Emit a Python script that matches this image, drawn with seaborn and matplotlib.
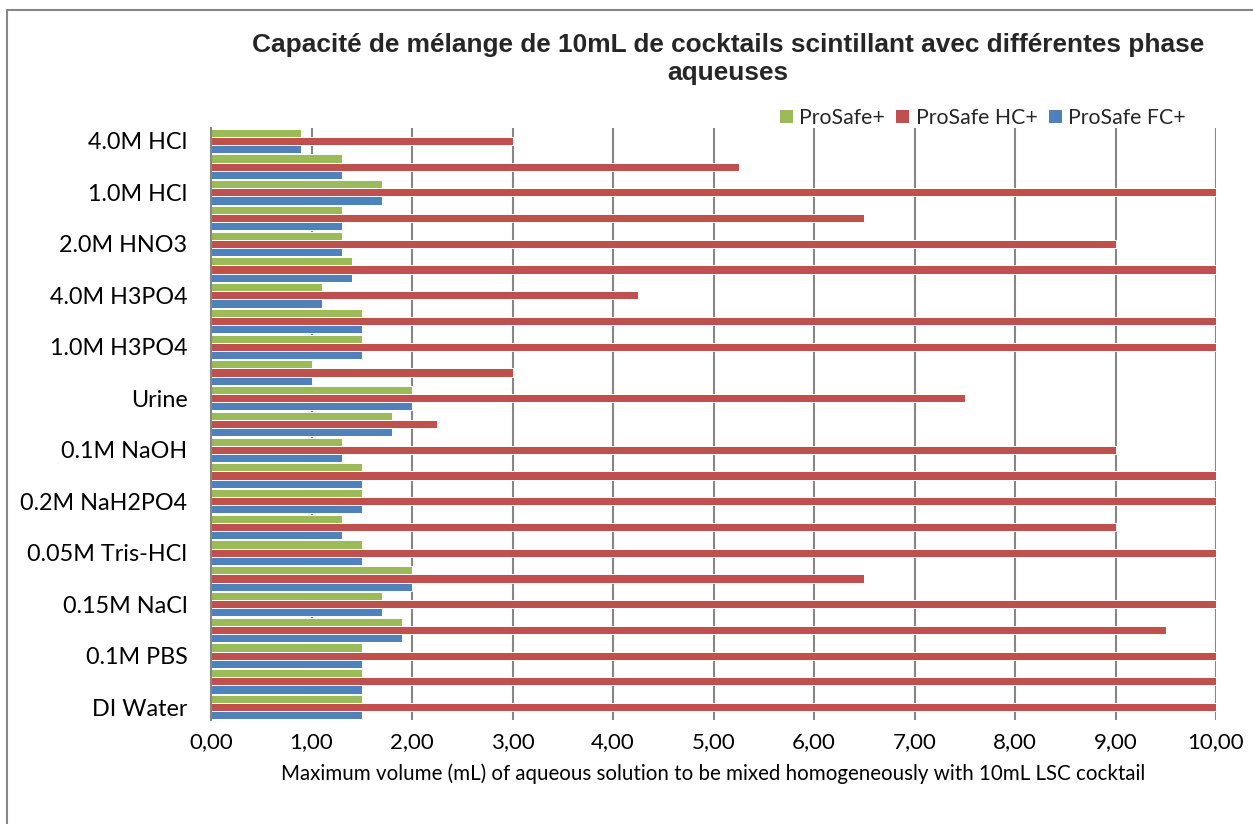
import matplotlib
matplotlib.use("Agg")
import matplotlib.pyplot as plt
from matplotlib.lines import Line2D
from matplotlib.ticker import FuncFormatter
import seaborn as sns
import pandas as pd

# Categories top to bottom (only every other one is labelled in the original)
tick_labels = ["4.0M HCl", "", "1.0M HCl", "", "2.0M HNO3", "", "4.0M H3PO4", "",
               "1.0M H3PO4", "", "Urine", "", "0.1M NaOH", "", "0.2M NaH2PO4", "",
               "0.05M Tris-HCl", "", "0.15M NaCl", "", "0.1M PBS", "", "DI Water"]
series = ["ProSafe+", "ProSafe HC+", "ProSafe FC+"]
prosafe_plus = [0.9, 1.3, 1.7, 1.3, 1.3, 1.4, 1.1, 1.5, 1.5, 1.0, 2.0, 1.8,
                1.3, 1.5, 1.5, 1.3, 1.5, 2.0, 1.7, 1.9, 1.5, 1.5, 1.5]
prosafe_hc = [3.0, 5.25, 10, 6.5, 9.0, 10, 4.25, 10, 10, 3.0, 7.5, 2.25,
              9.0, 10, 10, 9.0, 10, 6.5, 10, 9.5, 10, 10, 10]
prosafe_fc = [0.9, 1.3, 1.7, 1.3, 1.3, 1.4, 1.1, 1.5, 1.5, 1.0, 2.0, 1.8,
              1.3, 1.5, 1.5, 1.3, 1.5, 2.0, 1.7, 1.9, 1.5, 1.5, 1.5]
colors = ["#9BBB59", "#C0504D", "#4F81BD"]

cat_ids = [f"c{i:02d}" for i in range(len(tick_labels))]
rows = []
for s, vals in zip(series, [prosafe_plus, prosafe_hc, prosafe_fc]):
    for cid, v in zip(cat_ids, vals):
        rows.append({"cat": cid, "series": s, "value": v})
df = pd.DataFrame(rows)

sns.set_theme(style="white")
plt.rcParams["font.family"] = ["Lato", "DejaVu Sans"]

fig = plt.figure(figsize=(12.53, 8.24), dpi=100)
ax = fig.add_axes([211/1253, 1-720/824, (1216-211)/1253, (720-128)/824])

sns.barplot(data=df, y="cat", x="value", hue="series", order=cat_ids,
            hue_order=series, palette=colors, saturation=1, orient="h", width=0.95,
            edgecolor="white", linewidth=0.7, ax=ax, legend=True, errorbar=None)

ax.set_xlim(0, 10)
ax.set_ylim(len(cat_ids) - 0.5, -0.5)
ax.set_xticks(range(0, 11))
ax.xaxis.set_major_formatter(FuncFormatter(lambda v, p: f"{v:.2f}".replace(".", ",")))
ax.set_yticks(range(len(cat_ids)))
ax.set_yticklabels(tick_labels)
ax.tick_params(axis="y", length=0, pad=17, labelsize=16.8, labelcolor="#000000")
ax.tick_params(axis="x", length=0, pad=9, labelsize=16, labelcolor="#000000")
ax.set_ylabel("")
ax.set_xlabel("Maximum volume (mL) of aqueous solution to be mixed homogeneously with 10mL LSC cocktail",
              fontsize=14.8, labelpad=8, color="#000000")

ax.grid(axis="x", color="#868686", linewidth=1.5)
ax.grid(axis="y", visible=False)
ax.set_axisbelow(True)
for side in ["top", "right", "bottom"]:
    ax.spines[side].set_visible(False)
ax.spines["left"].set_color("#868686")
ax.spines["left"].set_linewidth(1.5)

handles, labels = ax.get_legend_handles_labels()
for h in handles:
    h.set_edgecolor("none")
ax.legend(handles, labels, loc="center right", bbox_to_anchor=(1186/1253, 1-118/824),
          bbox_transform=fig.transFigure, ncol=3,
          frameon=False, fontsize=15.3, handlelength=0.6, handleheight=0.6,
          handletextpad=0.3, columnspacing=0.55, borderaxespad=0.0, borderpad=0.0)

fig.text(728/1253, 1-59/824, "Capacité de mélange de 10mL de cocktails scintillant avec différentes phase\naqueuses",
         ha="center", va="center", fontsize=18.9, fontweight="bold",
         family=["Liberation Sans", "DejaVu Sans"], linespacing=1.2)

# chart area border (left and top edges visible)
fig.add_artist(Line2D([7/1253, 7/1253], [0, 1-10/824], transform=fig.transFigure,
                      color="#868686", linewidth=1.5))
fig.add_artist(Line2D([7/1253, 1], [1-10/824, 1-10/824], transform=fig.transFigure,
                      color="#868686", linewidth=1.5))

fig.savefig("out.png", dpi=100)
